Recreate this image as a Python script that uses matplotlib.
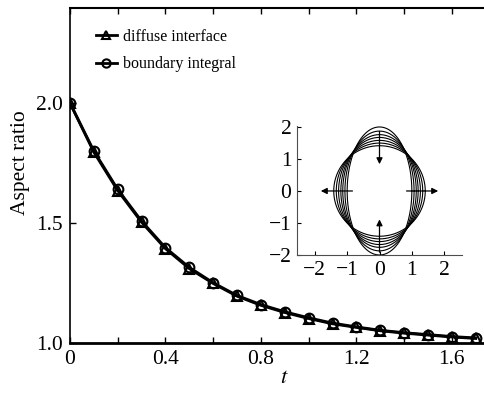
import matplotlib.pyplot as plt
import numpy as np

plt.rcParams['font.family'] = ['Liberation Serif', 'DejaVu Serif']
plt.rcParams['mathtext.fontset'] = 'stix'

# datos
t = [0.0, 0.1, 0.2, 0.3, 0.4, 0.5, 0.6, 0.7, 0.8, 0.9, 1.0, 1.1, 1.2, 1.3, 1.4, 1.5, 1.6, 1.7]
diffuse = [2.0, 1.795, 1.635, 1.503, 1.393, 1.31, 1.248, 1.195, 1.157, 1.127, 1.102, 1.08, 1.065, 1.051, 1.041, 1.033, 1.025, 1.019]
boundary = [2.0, 1.80, 1.64, 1.508, 1.397, 1.315, 1.251, 1.198, 1.16, 1.13, 1.105, 1.083, 1.067, 1.053, 1.043, 1.035, 1.027, 1.021]

# razones de aspecto de las formas del recuadro (elipses de area fija)
shape_ratios = [2.0, 1.75, 1.55, 1.4, 1.25, 1.12, 1.0]

fig = plt.figure(figsize=(4.84, 3.94), dpi=100)
ax = fig.add_axes([70/484, 51/394, 1 - 70/484 + 0.01, 335/394])

ax.plot(t, diffuse, 'k-', lw=2, marker='^', ms=7, mfc='none', mew=1.5, label='diffuse interface')
ax.plot(t, boundary, 'k-', lw=2, marker='o', ms=7, mfc='none', mew=1.5, label='boundary integral')

ax.set_xlim(0, 1.755)
ax.set_ylim(1.0, 2.396)
ax.set_xticks(np.arange(0, 1.75, 0.2), minor=True)
ax.set_xticks([0, 0.4, 0.8, 1.2, 1.6])
ax.set_xticklabels(['0', '0.4', '0.8', '1.2', '1.6'])
ax.set_yticks([1.0, 1.5, 2.0])
ax.set_yticklabels(['1.0', '1.5', '2.0'])
ax.tick_params(which='both', direction='in', top=True, length=4, width=1, labelsize=15.5)
ax.tick_params(axis='x', pad=5)
ax.tick_params(axis='y', pad=5)
ax.spines['right'].set_visible(False)
ax.spines['bottom'].set_linewidth(2)
ax.spines['top'].set_linewidth(1.5)
ax.spines['left'].set_linewidth(1.2)
ax.set_xlabel('$t$', fontsize=16)
ax.xaxis.set_label_coords((282-70)/414, -0.078)
ax.set_ylabel('Aspect ratio', fontsize=15.5)
ax.yaxis.set_label_coords(-0.096, 0.537)

ax.legend(loc='upper left', frameon=False, fontsize=11.5, handlelength=1.3,
          bbox_to_anchor=(0.028, 0.98), labelspacing=0.7, handletextpad=0.4, markerscale=0.85)

# recuadro con las formas
ins = fig.add_axes([297/484, (394-255)/394, 165/484, 129/394])
theta = np.linspace(0, 2*np.pi, 300)
for r in shape_ratios:
    a = np.sqrt(2.0/r)
    b = np.sqrt(2.0*r)
    ins.plot(a*np.cos(theta), b*np.sin(theta), 'k-', lw=0.8)

arrows = [((0, 1.95), (0, 0.75)), ((0, -2.0), (0, -0.8)),
          ((-0.75, 0), (-1.9, 0)), ((0.75, 0), (1.9, 0))]
for start, end in arrows:
    ins.annotate('', xy=end, xytext=start,
                 arrowprops=dict(arrowstyle='-|>', color='k', lw=0.9, mutation_scale=9))

ins.set_xlim(-2.55, 2.55)
ins.set_ylim(-2, 2.03)
ins.set_xticks([-2, -1, 0, 1, 2])
ins.set_xticklabels(['\u22122', '\u22121', '0', '1', '2'])
ins.set_yticks([-2, -1, 0, 1, 2])
ins.set_yticklabels(['\u22122', '\u22121', '0', '1', '2'])
ins.tick_params(direction='in', length=3, width=0.8, labelsize=15.5, pad=4)
ins.spines['right'].set_visible(False)
ins.spines['top'].set_visible(False)
ins.spines['left'].set_color('0.3')
ins.spines['bottom'].set_color('0.3')
ins.patch.set_alpha(0)

fig.savefig('out.png', dpi=100)
